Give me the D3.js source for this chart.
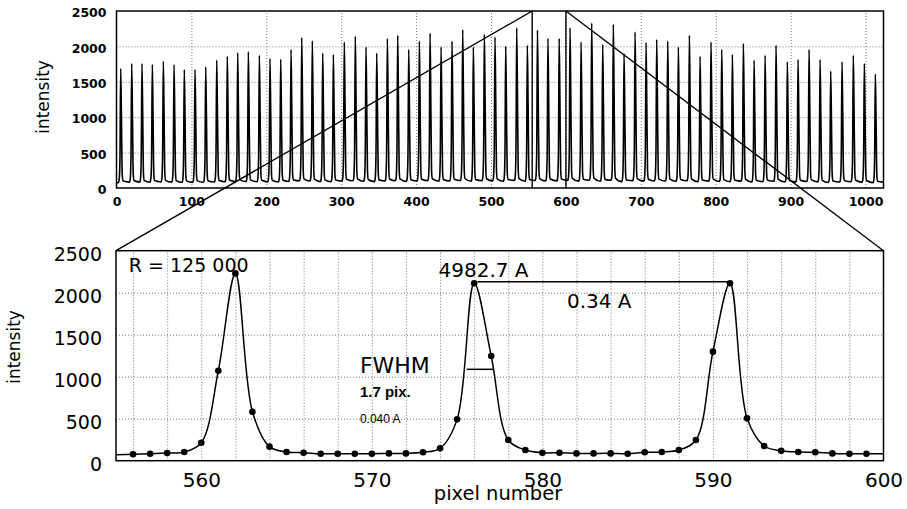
<!DOCTYPE html>
<html><head><meta charset="utf-8">
<script src="https://cdn.jsdelivr.net/npm/d3@7"></script>
<style>
body{margin:0;background:#fff;}
svg{display:block;background:#fff;}
text{font-family:"DejaVu Sans",sans-serif;fill:#000;}
</style></head><body>
<svg id="chart" width="907" height="509"></svg>
<script>
// ---------------- data ----------------
const overviewTicksX = [0,100,200,300,400,500,600,700,800,900,1000];
const intensityTicks = [0,500,1000,1500,2000,2500];
const zoomTicksX = [560,570,580,590,600];

// peak centres (pixel number) and peak heights
const peakCenters = [5.6,20.3,34.0,47.8,62.5,76.8,90.5,104.8,119.1,133.8,147.9,161.8,176.0,190.7,204.9,219.2,233.0,247.3,261.4,
  275.3,289.5,304.1,318.8,333.1,347.4,361.6,375.4,390.1,404.3,418.6,433.3,447.9,462.2,476.4,491.1,505.3,519.6,534.3,548.5,562,576,591,605.5,620.2,634.4,649.1,663.3,
  677.6,692.3,707.0,721.2,735.9,750.1,764.8,779.1,793.7,808.0,822.2,836.9,851.2,865.9,880.5,895.6,909.9,924.6,939.3,953.5,968.6,983.7,998.4,1013.1];
const peakHeights = [1688,1758,1758,1744,1790,1744,1673,1673,1710,1805,1861,1908,1922,1875,1828,1819,1955,2124,2080,
  1907,1884,2062,2142,1992,1907,2110,2156,1955,2076,2189,1992,2076,2236,1992,2170,2132,2001,2264,2015,2230,2112,2112,2264,2062,2329,2025,2311,
  1899,2203,2053,2096,2076,1992,2156,1861,2062,1955,1884,2039,1805,1875,2015,1781,1814,1955,1814,1650,1781,1875,1758,1608];

// zoomed region, one sample per pixel
const zoomPixels = [555,556,557,558,559,560,561,562,563,564,565,566,567,568,569,570,571,572,573,574,575,576,577,578,579,580,
  581,582,583,584,585,586,587,588,589,590,591,592,593,594,595,596,597,598,599,600];
const zoomIntensity = [70,76,83,92,104,214,1071,2230,583,167,104,95,83,83,83,83,87,87,100,147,492,2112,1246,246,127,95,
  95,87,87,87,83,100,104,127,246,1298,2112,504,175,119,104,100,87,83,83,83];

// ---------------- layout ----------------
const svg = d3.select("#chart");
const xT = d3.scaleLinear().domain([0,1024]).range([116.5,883.5]);
const yT = d3.scaleLinear().domain([0,2500]).range([188,11]);
const xB = d3.scaleLinear().domain([555,600]).range([116,883.5]);
const yB = d3.scaleLinear().domain([0,2500]).range([460.7,250.7]);
const fmt = d3.format("d");

const gridStyle = g => g.selectAll("line").attr("stroke","#777").attr("stroke-width",1).attr("stroke-dasharray","1,2");

// ---- top overview gridlines ----
const gT = svg.append("g");
gT.append("g").attr("transform",`translate(0,${yT(0)})`)
  .call(d3.axisBottom(xT).tickValues(overviewTicksX.filter(d=>d>0)).tickSize(-(yT(0)-yT(2500))).tickFormat(""))
  .call(g=>g.select(".domain").remove()).call(gridStyle);
gT.append("g").attr("transform",`translate(${xT(0)},0)`)
  .call(d3.axisLeft(yT).tickValues(intensityTicks.filter(d=>d>0&&d<2500)).tickSize(-(xT(1024)-xT(0))).tickFormat(""))
  .call(g=>g.select(".domain").remove()).call(gridStyle);

// build overview series from peak list, using measured line profile of the 576 peak as shape
const tIdx = zoomPixels.indexOf(576);
const tPeak = zoomIntensity[tIdx];
const offsets = [-3,-2,-1,0,1,2,3];
const topSeries = [[0, zoomIntensity[0]]];
peakCenters.forEach((c,i)=>{
  const s = peakHeights[i]/tPeak;
  offsets.forEach(o=>{ topSeries.push([c+o, zoomIntensity[tIdx+o]*s]); });
});
topSeries.push([1024, zoomIntensity[zoomIntensity.length-1]]);

svg.append("path").datum(topSeries)
  .attr("fill","none").attr("stroke","#000").attr("stroke-width",1.6)
  .attr("d", d3.line().x(d=>xT(d[0])).y(d=>yT(d[1])).curve(d3.curveMonotoneX));

svg.append("rect").attr("x",xT(0)).attr("y",yT(2500)).attr("width",xT(1024)-xT(0)).attr("height",yT(0)-yT(2500))
  .attr("fill","none").attr("stroke","#000").attr("stroke-width",1.5);

// top axes
const axT = svg.append("g").attr("transform",`translate(0,${yT(0)})`)
  .call(d3.axisBottom(xT).tickValues(overviewTicksX).tickSize(0).tickFormat(fmt));
axT.select(".domain").remove();
axT.selectAll("text").attr("dy",null).attr("y",17.7)
  .style("font-size","12.5px").style("font-weight","bold").style("font-family","'DejaVu Sans',sans-serif");
const ayT = svg.append("g").attr("transform",`translate(${xT(0)},0)`)
  .call(d3.axisLeft(yT).tickValues(intensityTicks).tickSize(0).tickPadding(10).tickFormat(fmt));
ayT.select(".domain").remove();
ayT.selectAll("text").attr("dy","0.45em")
  .style("font-size","12.5px").style("font-weight","bold").style("font-family","'DejaVu Sans',sans-serif");

svg.append("text").attr("transform","translate(49,97) rotate(-90)").attr("text-anchor","middle")
  .style("font-size","17px").text("intensity");

// ---- bottom zoom gridlines ----
const gB = svg.append("g");
gB.append("g").attr("transform",`translate(0,${yB(0)})`)
  .call(d3.axisBottom(xB).tickValues(d3.range(556,600,2)).tickSize(-(yB(0)-yB(2500))).tickFormat(""))
  .call(g=>g.select(".domain").remove()).call(gridStyle);
gB.append("g").attr("transform",`translate(${xB(555)},0)`)
  .call(d3.axisLeft(yB).tickValues(intensityTicks.filter(d=>d>0&&d<2500)).tickSize(-(xB(600)-xB(555))).tickFormat(""))
  .call(g=>g.select(".domain").remove()).call(gridStyle);

const zoomData = zoomPixels.map((p,i)=>[p, zoomIntensity[i]]);
svg.append("path").datum(zoomData)
  .attr("fill","none").attr("stroke","#000").attr("stroke-width",1.5)
  .attr("d", d3.line().x(d=>xB(d[0])).y(d=>yB(d[1])).curve(d3.curveCatmullRom.alpha(0.5)));

svg.append("rect").attr("x",xB(555)).attr("y",yB(2500)).attr("width",xB(600)-xB(555)).attr("height",yB(0)-yB(2500))
  .attr("fill","none").attr("stroke","#000").attr("stroke-width",1.5);

svg.append("g").selectAll("circle").data(zoomData.filter(d=>d[0]>555&&d[0]<600)).join("circle")
  .attr("cx",d=>xB(d[0])).attr("cy",d=>yB(d[1])).attr("r",3.3).attr("fill","#000");

// connectors between the two panels
const conn = svg.append("g").attr("stroke","#000").attr("stroke-width",1.4);
[555,600].forEach(p=>{
  conn.append("line").attr("x1",xT(p)).attr("x2",xT(p)).attr("y1",yT(2500)).attr("y2",yT(0));
  conn.append("line").attr("x1",xT(p)).attr("y1",yT(2500)).attr("x2",xB(p)).attr("y2",yB(2500));
});

// bottom axes
const axB = svg.append("g").attr("transform",`translate(0,${yB(0)})`)
  .call(d3.axisBottom(xB).tickValues(zoomTicksX).tickSize(0).tickFormat(fmt));
axB.select(".domain").remove();
axB.selectAll("text").attr("dy",null).attr("y",26.5).style("font-size","20px").style("font-family","'DejaVu Sans',sans-serif");
const ayB = svg.append("g").attr("transform",`translate(${xB(555)},0)`)
  .call(d3.axisLeft(yB).tickValues(intensityTicks).tickSize(0).tickPadding(14).tickFormat(fmt));
ayB.select(".domain").remove();
ayB.selectAll("text").attr("dy","0.5em").style("font-size","19px").style("font-family","'DejaVu Sans',sans-serif");

svg.append("text").attr("transform","translate(20,347) rotate(-90)").attr("text-anchor","middle")
  .style("font-size","17px").text("intensity");

svg.append("text").attr("x",498).attr("y",500).attr("text-anchor","middle").style("font-size","19.5px").text("pixel number");

// annotations
svg.append("text").attr("x",xB(555.75)).attr("y",yB(2246)).style("font-size","19px").text("R = 125 000");
svg.append("text").attr("x",xB(576.55)).attr("y",yB(2187)).attr("text-anchor","middle").style("font-size","20px").text("4982.7 A");
svg.append("line").attr("x1",xB(576.2)).attr("x2",xB(591)).attr("y1",yB(2131)).attr("y2",yB(2131))
  .attr("stroke","#000").attr("stroke-width",1.5);
svg.append("text").attr("x",xB(581.44)).attr("y",yB(1818)).style("font-size","20px").text("0.34 A");
svg.append("text").attr("x",xB(569.3)).attr("y",yB(1045)).style("font-size","22px").text("FWHM");
svg.append("line").attr("x1",xB(575.56)).attr("x2",xB(577.12)).attr("y1",yB(1088)).attr("y2",yB(1088))
  .attr("stroke","#000").attr("stroke-width",1.5);
svg.append("text").attr("x",xB(569.3)).attr("y",yB(755)).style("font-family","'Liberation Sans',Arial,sans-serif")
  .style("font-size","15px").style("font-weight","bold").text("1.7 pix.");
svg.append("text").attr("x",xB(569.3)).attr("y",yB(445)).style("font-family","'Liberation Sans',Arial,sans-serif")
  .style("font-size","12px").text("0.040 A");
</script>
</body></html>
